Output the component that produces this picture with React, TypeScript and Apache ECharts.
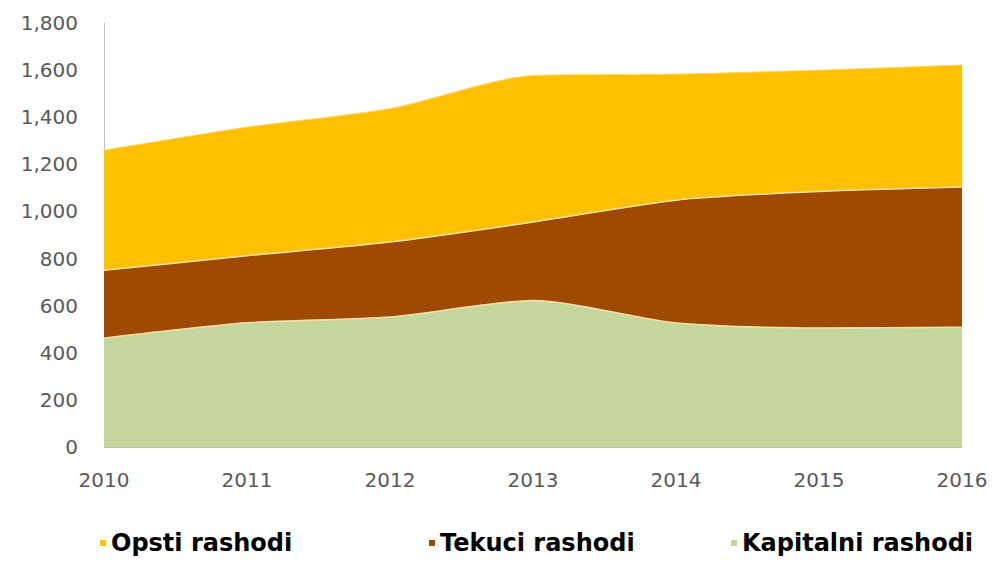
import React, { useEffect, useRef } from "react";
import * as echarts from "echarts";

const years = ["2010", "2011", "2012", "2013", "2014", "2015", "2016"];
const kapitalni = [462, 527, 552, 622, 526, 505, 508];
const tekuci = [288, 285, 318, 333, 522, 580, 596];
const opsti = [510, 546, 567, 622, 535, 515, 518];

const names = ["Opsti rashodi", "Tekuci rashodi", "Kapitalni rashodi"];
const colors = { opsti: "#FFC000", tekuci: "#9E4A03", kapitalni: "#C3D69B" };

export default function App() {
  const ref = useRef<HTMLDivElement>(null);
  useEffect(() => {
    document.body.style.margin = "0";
    if (!ref.current) return;
    const chart = echarts.init(ref.current, null, { renderer: "svg" });
    const legendText = {
      fontFamily: "DejaVu Sans",
      fontWeight: "bold",
      fontSize: 24,
      color: "#000000",
    };
    const mkLegend = (name: string, left: number, width: number) => ({
      data: [name],
      left,
      top: 531,
      itemWidth: 6,
      itemHeight: 6,
      itemGap: 0,
      icon: "rect",
      textStyle: { ...legendText, width, overflow: "none" },
      selectedMode: false,
      padding: 0,
    });
    const lineEdge = { color: "#FCE3AE", width: 1.5 };
    chart.setOption({
      animation: false,
      backgroundColor: "#ffffff",
      grid: { left: 104, right: 32, top: 23, bottom: 124, containLabel: false },
      legend: [
        mkLegend(names[0], 100, 181),
        mkLegend(names[1], 429, 205),
        mkLegend(names[2], 731, 231),
      ],
      xAxis: {
        type: "category",
        data: years,
        boundaryGap: false,
        axisLine: { show: true, lineStyle: { color: "#BFBFBF", width: 1 } },
        axisTick: { show: false },
        axisLabel: {
          margin: 23,
          fontFamily: "DejaVu Sans",
          fontSize: 20,
          color: "#595959",
          interval: 0,
        },
        splitLine: { show: false },
      },
      yAxis: {
        type: "value",
        min: 0,
        max: 1800,
        interval: 200,
        axisLine: { show: true, lineStyle: { color: "#BFBFBF", width: 1 } },
        axisTick: { show: false },
        splitLine: { show: false },
        axisLabel: {
          margin: 26,
          fontFamily: "DejaVu Sans",
          fontSize: 20,
          color: "#595959",
          formatter: (v: number) => v.toLocaleString("en-US"),
        },
      },
      series: [
        {
          name: names[2],
          type: "line",
          stack: "total",
          data: kapitalni,
          smooth: 0.25,
          symbol: "none",
          lineStyle: lineEdge,
          itemStyle: { color: colors.kapitalni },
          areaStyle: { color: colors.kapitalni, opacity: 1 },
        },
        {
          name: names[1],
          type: "line",
          stack: "total",
          data: tekuci,
          smooth: 0.25,
          symbol: "none",
          lineStyle: lineEdge,
          itemStyle: { color: colors.tekuci },
          areaStyle: { color: colors.tekuci, opacity: 1 },
        },
        {
          name: names[0],
          type: "line",
          stack: "total",
          data: opsti,
          smooth: 0.25,
          symbol: "none",
          lineStyle: { color: "#FFD966", width: 1 },
          itemStyle: { color: colors.opsti },
          areaStyle: { color: colors.opsti, opacity: 1 },
        },
      ],
    });
    return () => chart.dispose();
  }, []);
  return <div ref={ref} style={{ width: 994, height: 571 }} />;
}
